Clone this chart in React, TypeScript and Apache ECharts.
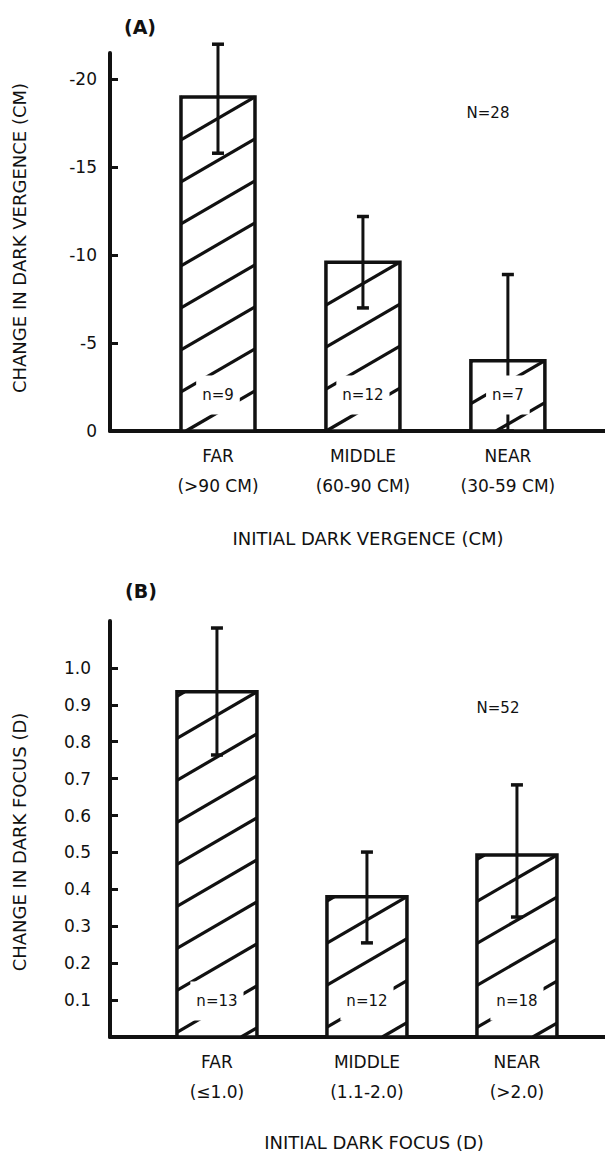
import React, { useEffect, useRef } from "react";
import * as echarts from "echarts";

// ---------- Panel A data ----------
const categoriesA = ["FAR\n(>90 CM)", "MIDDLE\n(60-90 CM)", "NEAR\n(30-59 CM)"];
const meanA = [-19.0, -9.6, -4.0];
const upperA = [-22.0, -12.2, -8.9];
const lowerA = [-15.8, -7.0, 0];
const nLabelsA = ["n=9", "n=12", "n=7"];
const ticksA = [-20, -15, -10, -5, 0];

// ---------- Panel B data ----------
const categoriesB = ["FAR\n(≤1.0)", "MIDDLE\n(1.1-2.0)", "NEAR\n(>2.0)"];
const meanB = [0.935, 0.38, 0.493];
const upperB = [1.108, 0.501, 0.683];
const lowerB = [0.764, 0.255, 0.325];
const nLabelsB = ["n=13", "n=12", "n=18"];
const ticksB = [0.1, 0.2, 0.3, 0.4, 0.5, 0.6, 0.7, 0.8, 0.9, 1.0];

const INK = "#111";
const FONT = '"DejaVu Sans", sans-serif';

function makeRender(barW: number, labels: string[]) {
  return (params: any, api: any) => {
    const x = api.value(0);
    const m = api.value(1);
    const hi = api.value(2);
    const lo = api.value(3);
    const base = api.coord([x, 0]);
    const top = api.coord([x, m]);
    const cx = base[0];
    const xL = cx - barW / 2;
    const xR = cx + barW / 2;
    const yT = Math.min(base[1], top[1]);
    const yB = Math.max(base[1], top[1]);
    const w = xR - xL;
    const children: any[] = [];
    children.push({
      type: "rect",
      shape: { x: xL, y: yT, width: w, height: yB - yT },
      style: { fill: "#fff", stroke: null },
    });
    // hatch lines "/" clipped to the bar
    const s = 0.58;
    const gap = 42;
    const c0 = yT + s * w;
    let c = c0 - Math.floor((c0 - yT) / gap) * gap;
    for (; c <= yB + s * w; c += gap) {
      const x1 = Math.max(xL, xL + (c - yB) / s);
      const x2 = Math.min(xR, xL + (c - yT) / s);
      if (x2 - x1 > 1) {
        children.push({
          type: "line",
          shape: { x1, y1: c - s * (x1 - xL), x2, y2: c - s * (x2 - xL) },
          style: { stroke: INK, lineWidth: 3.2 },
        });
      }
    }
    children.push({
      type: "rect",
      shape: { x: xL, y: yT, width: w, height: yB - yT },
      style: { fill: null, stroke: INK, lineWidth: 3.5 },
    });
    const hp = api.coord([x, hi]);
    const lp = api.coord([x, lo]);
    children.push({
      type: "line",
      shape: { x1: cx, y1: hp[1], x2: cx, y2: lp[1] },
      style: { stroke: INK, lineWidth: 3 },
    });
    children.push({
      type: "line",
      shape: { x1: cx - 6, y1: hp[1], x2: cx + 6, y2: hp[1] },
      style: { stroke: INK, lineWidth: 3.5 },
    });
    children.push({
      type: "line",
      shape: { x1: cx - 6, y1: lp[1], x2: cx + 6, y2: lp[1] },
      style: { stroke: INK, lineWidth: 3.5 },
    });
    children.push({
      type: "text",
      x: cx,
      y: yB - 36,
      style: {
        text: labels[params.dataIndex],
        fill: INK,
        fontSize: 15,
        fontFamily: FONT,
        align: "center",
        verticalAlign: "middle",
        textAlign: "center",
        textVerticalAlign: "middle",
        backgroundColor: "#fff",
        padding: [12, 6],
      },
    });
    return { type: "group", children };
  };
}

function gText(text: string, x: number, y: number, font: string, rotation = 0) {
  return {
    type: "text",
    x,
    y,
    rotation,
    style: {
      text,
      fill: INK,
      font,
      align: "center",
      verticalAlign: "middle",
      textAlign: "center",
      textVerticalAlign: "middle",
    },
  };
}

export default function App() {
  const ref = useRef<HTMLDivElement>(null);
  useEffect(() => {
    if (!ref.current) return;
    const chart = echarts.init(ref.current, undefined, { renderer: "svg" });
    const axisLine = { show: true, onZero: false, lineStyle: { color: INK, width: 4 } };
    const xAxisCommon = (cats: string[], min: number, max: number, gridIndex: number) => ({
      type: "value",
      gridIndex,
      min,
      max,
      position: "bottom",
      axisLine,
      axisTick: { show: false },
      splitLine: { show: false },
      axisLabel: {
        customValues: [0, 1, 2],
        formatter: (v: number) => cats[Math.round(v)] ?? "",
        color: INK,
        fontSize: 17,
        fontFamily: FONT,
        lineHeight: 30,
        margin: 10,
      },
    });
    chart.setOption({
      animation: false,
      backgroundColor: "#fff",
      grid: [
        { left: 110, right: 0, top: 53, height: 378 },
        { left: 110, right: 0, top: 621, height: 416 },
      ],
      xAxis: [
        xAxisCommon(categoriesA, -0.745, 2.67, 0),
        xAxisCommon(categoriesB, -0.713, 2.587, 1),
      ],
      yAxis: [
        {
          type: "value",
          gridIndex: 0,
          inverse: true,
          min: -21.5,
          max: 0,
          position: "left",
          axisLine,
          axisTick: {
            show: true,
            inside: true,
            length: 8,
            customValues: ticksA,
            lineStyle: { color: INK, width: 3 },
          },
          splitLine: { show: false },
          axisLabel: {
            customValues: ticksA,
            color: INK,
            fontSize: 17,
            fontFamily: FONT,
            margin: 13,
            formatter: (v: number) => String(v),
          },
        },
        {
          type: "value",
          gridIndex: 1,
          min: 0,
          max: 1.127,
          position: "left",
          axisLine,
          axisTick: {
            show: true,
            inside: true,
            length: 8,
            customValues: ticksB,
            lineStyle: { color: INK, width: 3 },
          },
          splitLine: { show: false },
          axisLabel: {
            customValues: ticksB,
            color: INK,
            fontSize: 17,
            fontFamily: FONT,
            margin: 19,
            formatter: (v: number) => v.toFixed(1),
          },
        },
      ],
      series: [
        {
          type: "custom",
          xAxisIndex: 0,
          yAxisIndex: 0,
          clip: false,
          renderItem: makeRender(74, nLabelsA),
          encode: { x: 0, y: [1, 2, 3] },
          data: meanA.map((m, i) => [i, m, upperA[i], lowerA[i]]),
        },
        {
          type: "custom",
          xAxisIndex: 1,
          yAxisIndex: 1,
          clip: false,
          renderItem: makeRender(80, nLabelsB),
          encode: { x: 0, y: [1, 2, 3] },
          data: meanB.map((m, i) => [i, m, upperB[i], lowerB[i]]),
        },
      ],
      graphic: [
        gText("(A)", 140, 27, `bold 19px ${FONT}`),
        gText("(B)", 141, 591, `bold 19px ${FONT}`),
        gText("N=28", 488, 113, `15px ${FONT}`),
        gText("N=52", 498, 708, `15px ${FONT}`),
        gText("CHANGE IN DARK VERGENCE (CM)", 19, 238, `18px ${FONT}`, Math.PI / 2),
        gText("CHANGE IN DARK FOCUS (D)", 19, 842, `18px ${FONT}`, Math.PI / 2),
        gText("INITIAL DARK VERGENCE (CM)", 368, 538, `18px ${FONT}`),
        gText("INITIAL DARK FOCUS (D)", 374, 1142, `18px ${FONT}`),
      ],
    });
    return () => chart.dispose();
  }, []);
  return (
    <div
      ref={ref}
      style={{ position: "absolute", left: 0, top: 0, width: 605, height: 1155, background: "#fff" }}
    />
  );
}
